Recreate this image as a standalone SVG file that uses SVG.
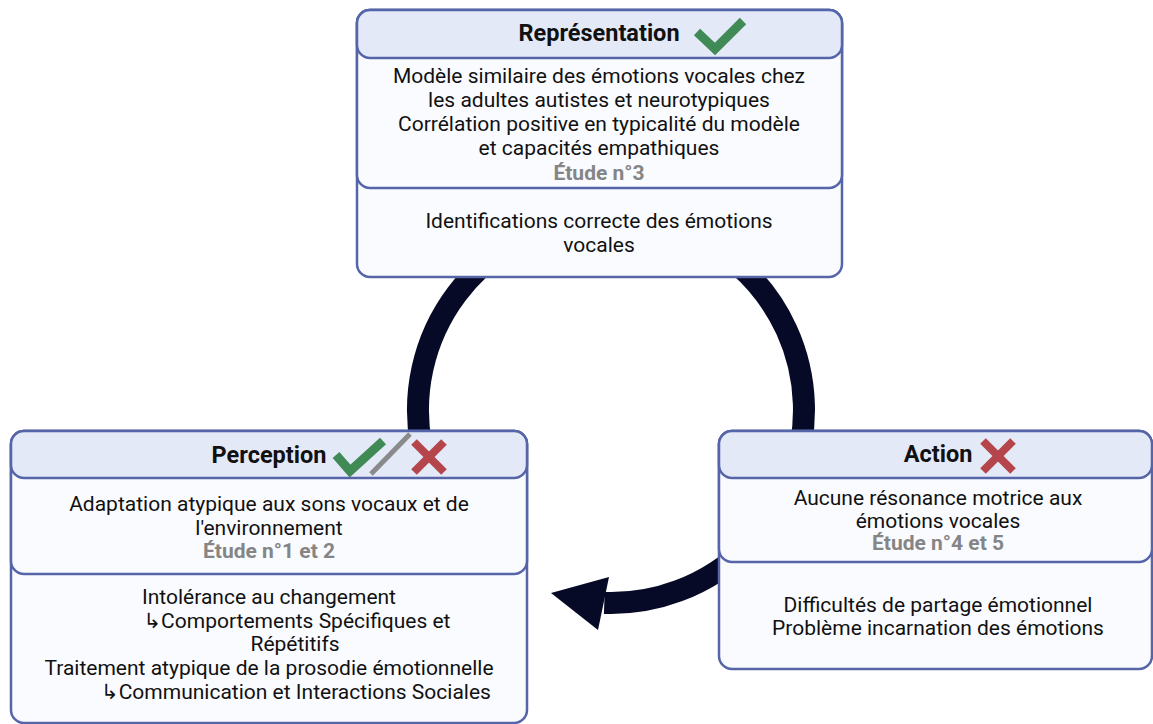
<svg xmlns="http://www.w3.org/2000/svg" width="1153" height="724" viewBox="0 0 1153 724">
  <style>
    .box { fill: #fafbff; stroke: #5565a8; stroke-width: 2.5; }
    .head { fill: #e4e9f8; stroke: #5565a8; stroke-width: 2.5; }
    .t { font-family: Roboto, "Liberation Sans", "DejaVu Sans", sans-serif; font-size: 21px; fill: #111111; text-anchor: middle; }
    .title { font-family: Roboto, "Liberation Sans", sans-serif; font-size: 23.5px; font-weight: bold; fill: #111111; text-anchor: middle; }
    .study { font-family: Roboto, "Liberation Sans", sans-serif; font-size: 21px; font-weight: bold; fill: #858585; text-anchor: middle; }
    .check { fill: none; stroke: #3f8a55; stroke-width: 9; stroke-linecap: butt; stroke-linejoin: miter; }
    .cross { fill: none; stroke: #b4454a; stroke-width: 8; stroke-linecap: butt; }
    .slash { fill: none; stroke: #8a8a8a; stroke-width: 5; }
  </style>
  <rect x="0" y="0" width="1153" height="724" fill="#ffffff"/>

  <g id="connectors">
    <path d="M 420.9 443.5 A 193 193 0 1 1 604.3 602.9" fill="none" stroke="#070a26" stroke-width="22"/>
    <polygon points="551,593 609,577 598,630" fill="#070a26"/>
  </g>

  <g id="representation">
    <rect class="box" x="357" y="10" width="485" height="267" rx="13"/>
    <rect class="box" x="357" y="10" width="485" height="178" rx="13"/>
    <rect class="head" x="357" y="10" width="485" height="48" rx="13"/>
    <text class="title" x="599" y="41">Représentation</text>
    <polyline class="check" points="697,32 715,49 743,21"/>
    <text class="t" x="599" y="83">Modèle similaire des émotions vocales chez</text>
    <text class="t" x="599" y="107">les adultes autistes et neurotypiques</text>
    <text class="t" x="599" y="131">Corrélation positive en typicalité du modèle</text>
    <text class="t" x="599" y="155">et capacités empathiques</text>
    <text class="study" x="599" y="180">Étude n°3</text>
    <text class="t" x="599" y="228">Identifications correcte des émotions</text>
    <text class="t" x="599" y="252">vocales</text>
  </g>

  <g id="perception">
    <rect class="box" x="11" y="431" width="516" height="292" rx="13"/>
    <rect class="box" x="11" y="431" width="516" height="143" rx="13"/>
    <rect class="head" x="11" y="431" width="516" height="47" rx="13"/>
    <text class="title" x="269" y="463">Perception</text>
    <polyline class="check" points="336,455 350,471 383,441"/>
    <line class="slash" x1="371" y1="474" x2="410" y2="434"/>
    <line class="cross" x1="414" y1="442" x2="444" y2="472"/>
    <line class="cross" x1="444" y1="442" x2="414" y2="472"/>
    <text class="t" x="269" y="511">Adaptation atypique aux sons vocaux et de</text>
    <text class="t" x="269" y="535">l'environnement</text>
    <text class="study" x="269" y="558">Étude n°1 et 2</text>
    <text class="t" x="269" y="604">Intolérance au changement</text>
    <text class="t" x="297" y="628">↳Comportements Spécifiques et</text>
    <text class="t" x="295" y="651">Répétitifs</text>
    <text class="t" x="269" y="675">Traitement atypique de la prosodie émotionnelle</text>
    <text class="t" x="296" y="699">↳Communication et Interactions Sociales</text>
  </g>

  <g id="action">
    <rect class="box" x="719" y="431" width="433" height="238" rx="13"/>
    <rect class="box" x="719" y="431" width="433" height="131" rx="13"/>
    <rect class="head" x="719" y="431" width="433" height="47" rx="13"/>
    <text class="title" x="938" y="462">Action</text>
    <line class="cross" x1="983" y1="441" x2="1013" y2="471"/>
    <line class="cross" x1="1013" y1="441" x2="983" y2="471"/>
    <text class="t" x="938" y="505">Aucune résonance motrice aux</text>
    <text class="t" x="938" y="528">émotions vocales</text>
    <text class="study" x="938" y="550">Étude n°4 et 5</text>
    <text class="t" x="938" y="612">Difficultés de partage émotionnel</text>
    <text class="t" x="938" y="635">Problème incarnation des émotions</text>
  </g>
</svg>
